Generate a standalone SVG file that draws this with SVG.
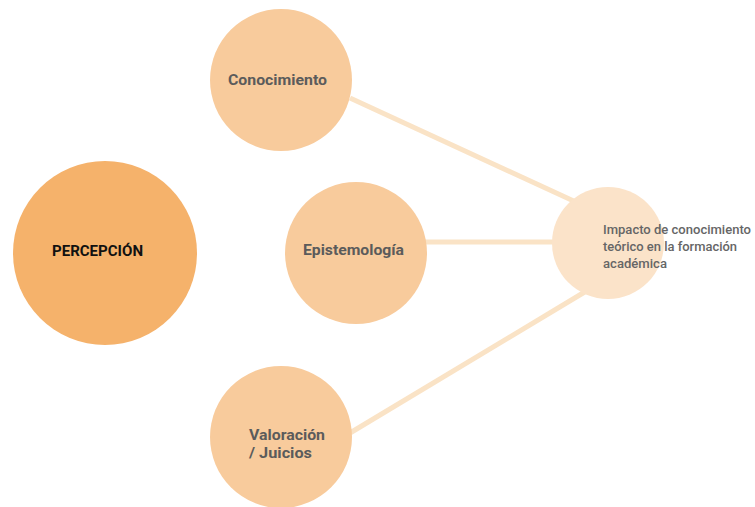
<svg xmlns="http://www.w3.org/2000/svg" width="755" height="507" viewBox="0 0 755 507">
<style>
.lbl{font-family:Roboto,"Liberation Sans",sans-serif;font-weight:bold;font-size:15px;fill:#5b5b5b}
.small{font-family:Roboto,"Liberation Sans",sans-serif;font-weight:500;font-size:12px;fill:#666666}
.conn{stroke:#FAE3C6;stroke-width:5;fill:none}
.mid{fill:#F8CB9C}
</style>
<rect width="755" height="507" fill="#ffffff"/>
<g id="connectors">
<line class="conn" x1="350" y1="98" x2="578" y2="203"/>
<line class="conn" x1="425" y1="242" x2="556" y2="242"/>
<line class="conn" x1="350" y1="433" x2="588" y2="290"/>
</g>
<g id="percepcion">
<circle cx="105" cy="253" r="92" fill="#F5B26B"/>
<text x="52" y="256" font-family="Roboto,'Liberation Sans',sans-serif" font-weight="bold" font-size="14" fill="#111111" textLength="91" lengthAdjust="spacingAndGlyphs">PERCEPCIÓN</text>
</g>
<g id="conocimiento">
<circle class="mid" cx="281" cy="80" r="71"/>
<text class="lbl" x="228" y="85" textLength="99" lengthAdjust="spacingAndGlyphs">Conocimiento</text>
</g>
<g id="epistemologia">
<circle class="mid" cx="356" cy="253" r="71"/>
<text class="lbl" x="303" y="255" textLength="101" lengthAdjust="spacingAndGlyphs">Epistemología</text>
</g>
<g id="valoracion">
<circle class="mid" cx="281" cy="437" r="71"/>
<text class="lbl" x="249" y="440" textLength="76" lengthAdjust="spacingAndGlyphs">Valoración</text>
<text class="lbl" x="249" y="458" textLength="63" lengthAdjust="spacingAndGlyphs">/ Juicios</text>
</g>
<g id="impacto">
<circle cx="608" cy="243" r="56" fill="#FBE3C9"/>
<text class="small" x="603" y="234" textLength="148" lengthAdjust="spacingAndGlyphs">Impacto de conocimiento</text>
<text class="small" x="603" y="251" textLength="134" lengthAdjust="spacingAndGlyphs">teórico en la formación</text>
<text class="small" x="603" y="268" textLength="64" lengthAdjust="spacingAndGlyphs">académica</text>
</g>
</svg>
